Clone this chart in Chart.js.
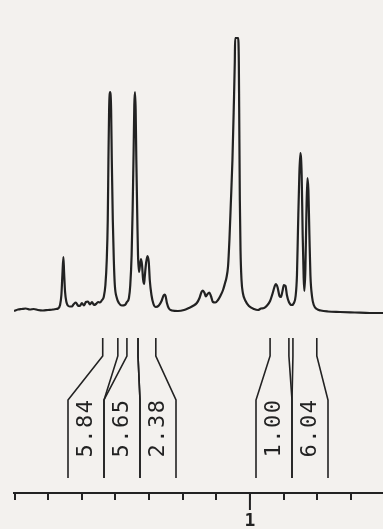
<!DOCTYPE html>
<html>
<head>
<meta charset="utf-8">
<script src="https://cdn.jsdelivr.net/npm/chart.js@4/dist/chart.umd.min.js"></script>
<style>
  html, body { margin: 0; padding: 0; background: #f3f1ee; }
  canvas { display: block; }
</style>
</head>
<body>
<canvas id="spec" width="383" height="529" style="width:383px;height:529px"></canvas>
<script>
// 1H spectrum trace: chemical shift (ppm) and intensity (arbitrary units, baseline ~0)
const shiftPpm = [
  1.702, 1.690, 1.679, 1.667, 1.655, 1.643, 1.631, 1.616, 1.601, 1.586, 1.577, 1.571,
  1.565, 1.561, 1.558, 1.555, 1.553, 1.550, 1.546, 1.542, 1.536, 1.530, 1.524, 1.518,
  1.512, 1.506, 1.500, 1.494, 1.488, 1.482, 1.476, 1.470, 1.464, 1.458, 1.452, 1.446,
  1.440, 1.435, 1.430, 1.426, 1.423, 1.421, 1.419, 1.416, 1.413, 1.411, 1.408, 1.405,
  1.402, 1.396, 1.390, 1.381, 1.372, 1.366, 1.360, 1.356, 1.352, 1.349, 1.346, 1.344,
  1.342, 1.340, 1.338, 1.335, 1.333, 1.330, 1.327, 1.324, 1.321, 1.318, 1.315, 1.313,
  1.309, 1.305, 1.301, 1.298, 1.293, 1.287, 1.280, 1.271, 1.263, 1.257, 1.254, 1.251,
  1.247, 1.241, 1.232, 1.214, 1.196, 1.182, 1.170, 1.158, 1.150, 1.144, 1.140, 1.135,
  1.131, 1.126, 1.121, 1.116, 1.110, 1.103, 1.095, 1.088, 1.080, 1.074, 1.070, 1.065,
  1.061, 1.057, 1.052, 1.048, 1.045, 1.044, 1.035, 1.033, 1.032, 1.030, 1.028, 1.025,
  1.021, 1.013, 1.003, 0.988, 0.976, 0.967, 0.958, 0.949, 0.940, 0.933, 0.927, 0.923,
  0.918, 0.912, 0.908, 0.903, 0.899, 0.894, 0.890, 0.884, 0.876, 0.869, 0.864, 0.860,
  0.857, 0.853, 0.850, 0.846, 0.843, 0.840, 0.838, 0.835, 0.832, 0.829, 0.826, 0.823,
  0.820, 0.815, 0.810, 0.801, 0.789, 0.768, 0.732, 0.688, 0.643, 0.604
];
const intensity = [
  1, 2.5, 3, 3.5, 2.5, 3, 2, 1.5, 2, 2.5, 3, 3.5,
  7, 17, 37, 55, 40, 20, 10, 6.5, 5.5, 5.5, 8, 9.5,
  6.5, 6, 9, 6.5, 10, 10.5, 7.5, 10, 7, 8, 10, 9.5,
  12, 15, 27, 52, 92, 152, 202, 220, 202, 152, 92, 52,
  27, 14, 9, 6.5, 7, 10, 14, 27, 57, 102, 162, 207,
  220, 202, 152, 92, 57, 40, 47, 53, 47, 33, 28, 35,
  49, 56, 50, 32, 17, 8, 5, 6.5, 11, 16.5, 17.5, 16,
  9, 3.5, 1.5, 1, 2, 4, 6, 9, 14, 20, 21.5, 19,
  15.5, 18, 19.5, 16, 10, 9.5, 12, 16, 22, 29, 34, 46,
  72, 107, 152, 205, 250, 274, 274, 250, 205, 112, 62, 32,
  19, 11, 6, 3, 2, 3.5, 4, 6.5, 11, 18, 25, 28,
  25, 16, 15, 21, 27, 26, 17, 10, 7, 9, 16, 37,
  82, 137, 159, 137, 77, 34, 21, 42, 97, 134, 122, 77,
  37, 15, 7, 3, 1.5, 0.5, 0, -0.5, -1, -1
];

// Integral regions (ppm limits) and their printed values
const integralFrom = [1.438, 1.366, 1.333, 0.940, 0.872];
const integralTo   = [1.393, 1.333, 1.280, 0.884, 0.801];
const integralText = ['5.84', '5.65', '2.38', '1.00', '6.04'];

// Axis ticks every 0.1 ppm, only 1 ppm carries a label
const tickStep = 0.1;
const labelledShift = 1;

const INK = '#222222';

const paperPlugin = {
  id: 'paper',
  beforeDraw(chart) {
    const c = chart.ctx;
    c.save();
    c.fillStyle = '#f3f1ee';
    c.fillRect(0, 0, chart.width, chart.height);
    c.restore();
  }
};

// Integral brackets: a line rises from each region edge, bends, and frames a rotated value
const integralPlugin = {
  id: 'integrals',
  afterDraw(chart) {
    const x = chart.scales.x;
    const c = chart.ctx;
    const groups = [{ first: 0, count: 3, left: 68 }, { first: 3, count: 2, left: 256 }];
    const slot = 36;
    const yTop = 338, yBend1 = 356, yBend2 = 400, yBottom = 478;
    c.save();
    c.strokeStyle = INK;
    c.lineWidth = 1.6;
    c.fillStyle = INK;
    const edge = (xt, xb) => {
      c.beginPath();
      c.moveTo(xt, yTop);
      c.lineTo(xt, yBend1);
      c.lineTo(xb, yBend2);
      c.lineTo(xb, yBottom);
      c.stroke();
    };
    groups.forEach(g => {
      for (let k = 0; k < g.count; k++) {
        const i = g.first + k;
        const bl = g.left + k * slot, br = bl + slot;
        edge(x.getPixelForValue(integralFrom[i]), bl);
        edge(x.getPixelForValue(integralTo[i]), br);
        c.save();
        c.translate((bl + br) / 2, 429);
        c.rotate(-Math.PI / 2);
        c.font = '22px "DejaVu Sans Mono"';
        c.letterSpacing = '1.5px';
        c.textAlign = 'center';
        c.textBaseline = 'middle';
        c.fillText(integralText[i], 1, 0);
        c.restore();
      }
    });
    // longer tick at the labelled shift
    const px = x.getPixelForValue(labelledShift);
    c.lineWidth = 2;
    c.beginPath();
    c.moveTo(px, x.top);
    c.lineTo(px, x.top + 17);
    c.stroke();
    c.restore();
  }
};

new Chart(document.getElementById('spec'), {
  type: 'line',
  data: {
    datasets: [{
      data: shiftPpm.map((p, i) => ({ x: p, y: intensity[i] })),
      borderColor: INK,
      borderWidth: 2.2,
      pointRadius: 0,
      fill: false,
      cubicInterpolationMode: 'monotone'
    }]
  },
  options: {
    responsive: false,
    animation: false,
    devicePixelRatio: 1,
    layout: { padding: { left: 14, right: 0, top: 0, bottom: 0 } },
    scales: {
      x: {
        type: 'linear',
        reverse: true,
        min: 0.604,
        max: 1.702,
        position: 'bottom',
        border: { display: true, color: INK, width: 2 },
        grid: { drawOnChartArea: false, drawTicks: true, tickLength: 7, color: INK, lineWidth: 2 },
        ticks: {
          stepSize: tickStep,
          includeBounds: false,
          autoSkip: false,
          maxRotation: 0,
          padding: 11,
          color: INK,
          font: { family: 'DejaVu Sans Mono', size: 18, weight: 'bold' },
          callback: v => (Math.abs(v - labelledShift) < 1e-6 ? String(labelledShift) : '')
        },
        afterFit: s => { s.height = 36; }
      },
      y: { display: false, min: -181, max: 312 }
    },
    plugins: { legend: { display: false }, tooltip: { enabled: false } }
  },
  plugins: [paperPlugin, integralPlugin]
});
</script>
</body>
</html>
